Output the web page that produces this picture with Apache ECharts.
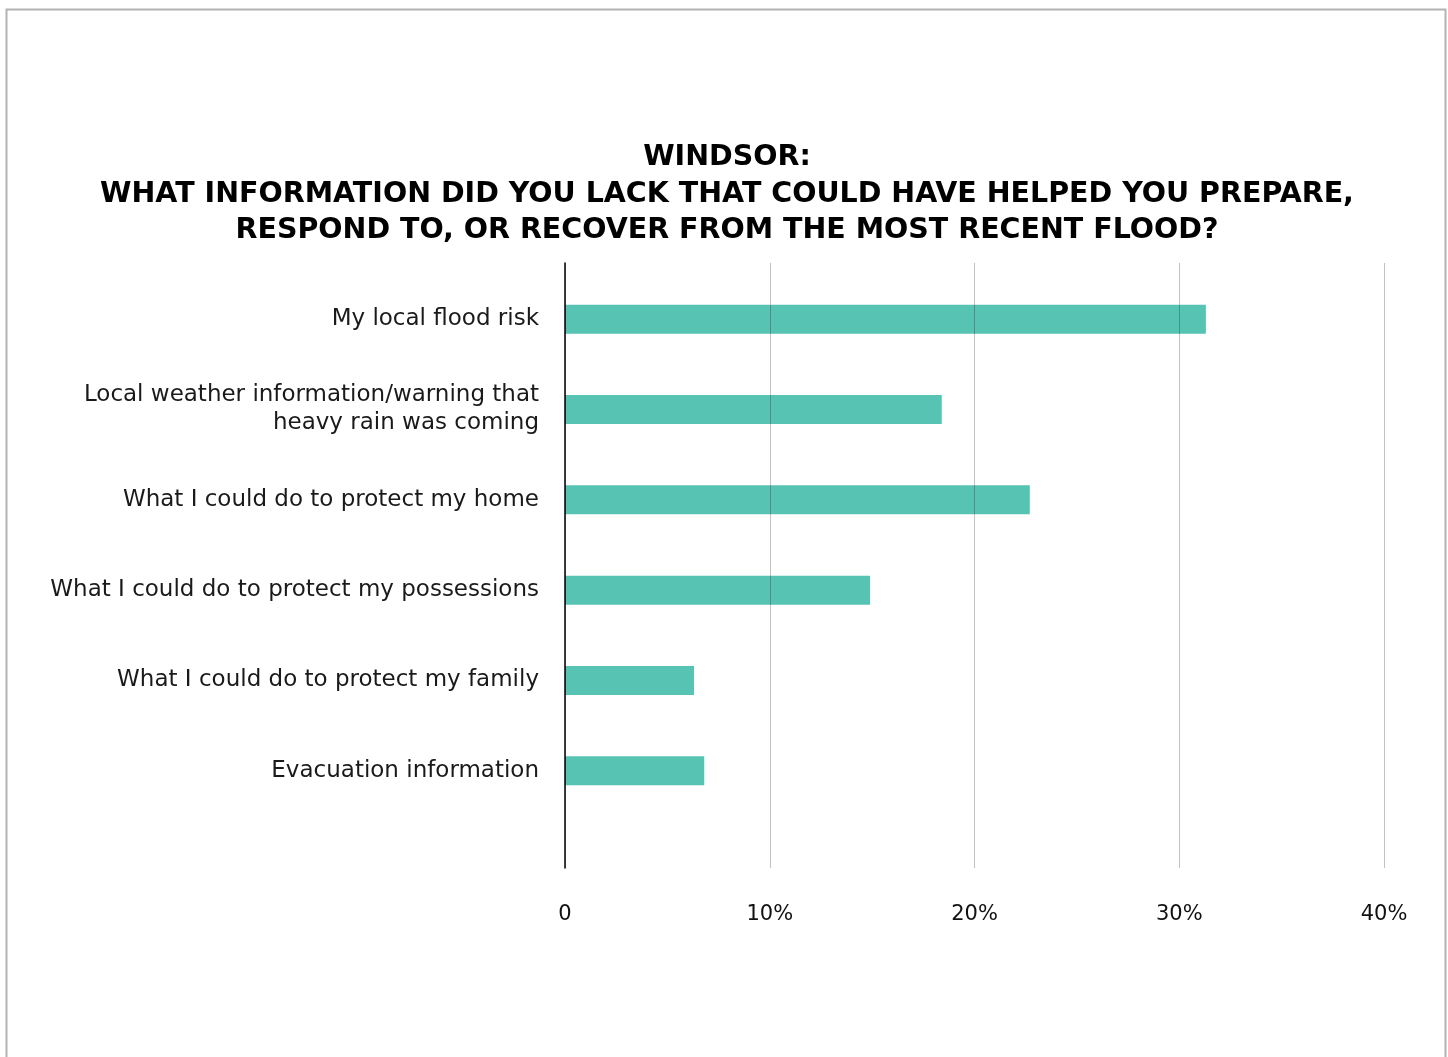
<!DOCTYPE html>
<html>
<head>
<meta charset="utf-8">
<script src="https://cdn.jsdelivr.net/npm/echarts@6/dist/echarts.min.js"></script>
<style>
html,body{margin:0;padding:0;background:#fff;}
#chart{width:1448px;height:1057px;}
</style>
</head>
<body>
<div id="chart"></div>
<script>
const categories = [
  "My local flood risk",
  "Local weather information/warning that\nheavy rain was coming",
  "What I could do to protect my home",
  "What I could do to protect my possessions",
  "What I could do to protect my family",
  "Evacuation information"
];
const values = [31.3, 18.4, 22.7, 14.9, 6.3, 6.8];
const xTicks = [0, 10, 20, 30, 40];
const titleLines = [
  "WINDSOR:",
  "WHAT INFORMATION DID YOU LACK THAT COULD HAVE HELPED YOU PREPARE,",
  "RESPOND TO, OR RECOVER FROM THE MOST RECENT FLOOD?"
];

const FONT = "'DejaVu Sans', 'Noto Sans', sans-serif";
const titleGraphics = titleLines.map((t, i) => ({
  type: 'text', silent: true, x: 727, y: 158 + i * 36.5,
  style: {
    text: t, align: 'center', verticalAlign: 'middle',
    font: "bold 28.5px 'DejaVu Sans', sans-serif", fill: '#000'
  }
}));

const chart = echarts.init(document.getElementById('chart'), null, {renderer: 'canvas'});
chart.setOption({
  backgroundColor: '#ffffff',
  animation: false,
  graphic: [
    {
      type: 'rect', silent: true,
      shape: {x: 6.5, y: 9.5, width: 1439, height: 1100},
      style: {fill: 'none', stroke: '#b3b3b3', lineWidth: 2}
    }
  ].concat(titleGraphics),
  grid: [
    {left: 565, right: 64, top: 274, height: 542},
    {left: 565, right: 64, top: 263, height: 605}
  ],
  xAxis: [
    {gridIndex: 0, type: 'value', min: 0, max: 40, interval: 10, show: false},
    {
      gridIndex: 1, type: 'value', min: 0, max: 40, interval: 10, z: 10,
      axisLine: {show: false}, axisTick: {show: false},
      axisLabel: {
        margin: 36, fontFamily: FONT, fontSize: 21, color: '#111',
        formatter: v => v === 0 ? '0' : v + '%'
      },
      splitLine: {show: true, lineStyle: {color: 'rgba(0,0,0,0.24)', width: 1}}
    }
  ],
  yAxis: [
    {
      gridIndex: 0, type: 'category', data: categories, inverse: true,
      axisLine: {show: false}, axisTick: {show: false},
      axisLabel: {
        margin: 26, fontFamily: FONT, fontSize: 23, lineHeight: 28, color: '#1a1a1a', align: 'right'
      }
    },
    {
      gridIndex: 1, type: 'value', min: 0, max: 1, z: 10,
      axisLine: {show: true, lineStyle: {color: '#000', width: 1.5}},
      axisTick: {show: false}, axisLabel: {show: false}, splitLine: {show: false}
    }
  ],
  series: [{
    type: 'bar',
    xAxisIndex: 0, yAxisIndex: 0,
    data: values,
    barWidth: 29,
    itemStyle: {color: '#57c3b3'}
  }]
});
</script>
</body>
</html>
